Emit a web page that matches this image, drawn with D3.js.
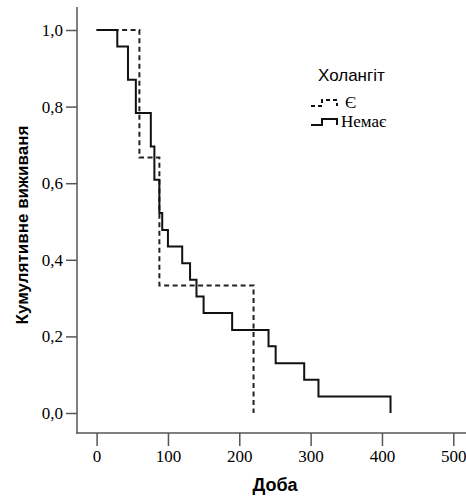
<!DOCTYPE html>
<html>
<head>
<meta charset="utf-8">
<script src="https://cdn.jsdelivr.net/npm/d3@7"></script>
<style>
  html, body { margin: 0; padding: 0; background: #fff; }
  svg { display: block; }
  .serif { font-family: "Liberation Serif", "DejaVu Serif", serif; }
  .sans { font-family: "Liberation Sans", Arial, sans-serif; }
</style>
</head>
<body>
<svg id="chart" width="466" height="497"></svg>
<script>
// ---- data ----
const legendTitle = "Холангіт";
const seriesNames = ["Є", "Немає"];
// step times (days) and survival after each step
const timesYes = [0, 60, 88, 220];
const survYes  = [1.0, 0.667, 0.333, 0.0];
const timesNo  = [0, 29, 44, 55, 76, 81, 88, 92, 100, 120, 131, 140, 150, 190, 241, 251, 291, 311, 412];
const survNo   = [1.0, 0.957, 0.870, 0.783, 0.696, 0.609, 0.522, 0.478, 0.435, 0.391, 0.348, 0.304, 0.261, 0.217, 0.174, 0.130, 0.087, 0.043, 0.0];
const xTicks = [0, 100, 200, 300, 400, 500];
const yTicks = [0, 0.2, 0.4, 0.6, 0.8, 1.0];
const xTitle = "Доба";
const yTitle = "Кумулятивне виживаня";

const svg = d3.select("#chart");
const x = d3.scaleLinear().domain([0, 500]).range([96.6, 453.3]);
const y = d3.scaleLinear().domain([0, 1]).range([413, 30]);

const axisColor = "#555";
const serifFam = "Liberation Serif, DejaVu Serif, serif";
const sansFam = "Liberation Sans, Arial, sans-serif";

// axes
const gx = svg.append("g").attr("transform", "translate(0,433)")
  .call(d3.axisBottom(x).tickValues(xTicks).tickSize(13).tickPadding(4).tickFormat(d3.format("d")));
const gy = svg.append("g").attr("transform", "translate(77,0)")
  .call(d3.axisLeft(y).tickValues(yTicks).tickSize(11).tickPadding(3).tickFormat(d => d3.format(".1f")(d).replace(".", ",")));
[gx, gy].forEach(g => {
  g.attr("font-family", serifFam).attr("font-size", 17);
  g.select(".domain").remove();
  g.selectAll(".tick line").attr("stroke", axisColor).attr("stroke-width", 1.5);
  g.selectAll(".tick text").attr("fill", "#000").attr("class", "serif");
});
// axis lines
svg.append("line").attr("x1", 77).attr("x2", 77).attr("y1", 7).attr("y2", 433.75)
  .attr("stroke", axisColor).attr("stroke-width", 1.5);
svg.append("line").attr("x1", 76.25).attr("x2", 466).attr("y1", 433).attr("y2", 433)
  .attr("stroke", axisColor).attr("stroke-width", 1.5);

// step lines
function stepPath(ts, ss) {
  const pts = ts.map((t, i) => [t, ss[i]]);
  return d3.line().x(d => x(d[0])).y(d => y(d[1])).curve(d3.curveStepAfter)(pts);
}
svg.append("path").attr("d", stepPath(timesYes, survYes))
  .attr("fill", "none").attr("stroke", "#222").attr("stroke-width", 2)
  .attr("stroke-dasharray", "5,3.5");
svg.append("path").attr("d", stepPath(timesNo, survNo))
  .attr("fill", "none").attr("stroke", "#111").attr("stroke-width", 2);

// axis titles
svg.append("text").attr("x", 275).attr("y", 491).attr("text-anchor", "middle")
  .attr("class", "sans").attr("font-weight", "bold").attr("font-size", 18)
  .text(xTitle);
svg.append("text").attr("transform", "translate(28,225) rotate(-90)").attr("text-anchor", "middle")
  .attr("class", "sans").attr("font-weight", "bold").attr("font-size", 17)
  .text(yTitle);

// legend
svg.append("text").attr("x", 318).attr("y", 81)
  .attr("class", "sans").attr("font-size", 17).text(legendTitle);
const legendRows = [
  { name: seriesNames[0], dash: "4,3", y: 106 },
  { name: seriesNames[1], dash: null, y: 125 }
];
legendRows.forEach(r => {
  svg.append("path").attr("d", `M311,${r.y}H322V${r.y - 6}H337V${r.y}`)
    .attr("fill", "none").attr("stroke", "#111").attr("stroke-width", 2)
    .attr("stroke-dasharray", r.dash);
  svg.append("text").attr("x", r.name === "Є" ? 345 : 341).attr("y", r.y + 2)
    .attr("class", "serif").attr("font-size", 17).text(r.name);
});
</script>
</body>
</html>
